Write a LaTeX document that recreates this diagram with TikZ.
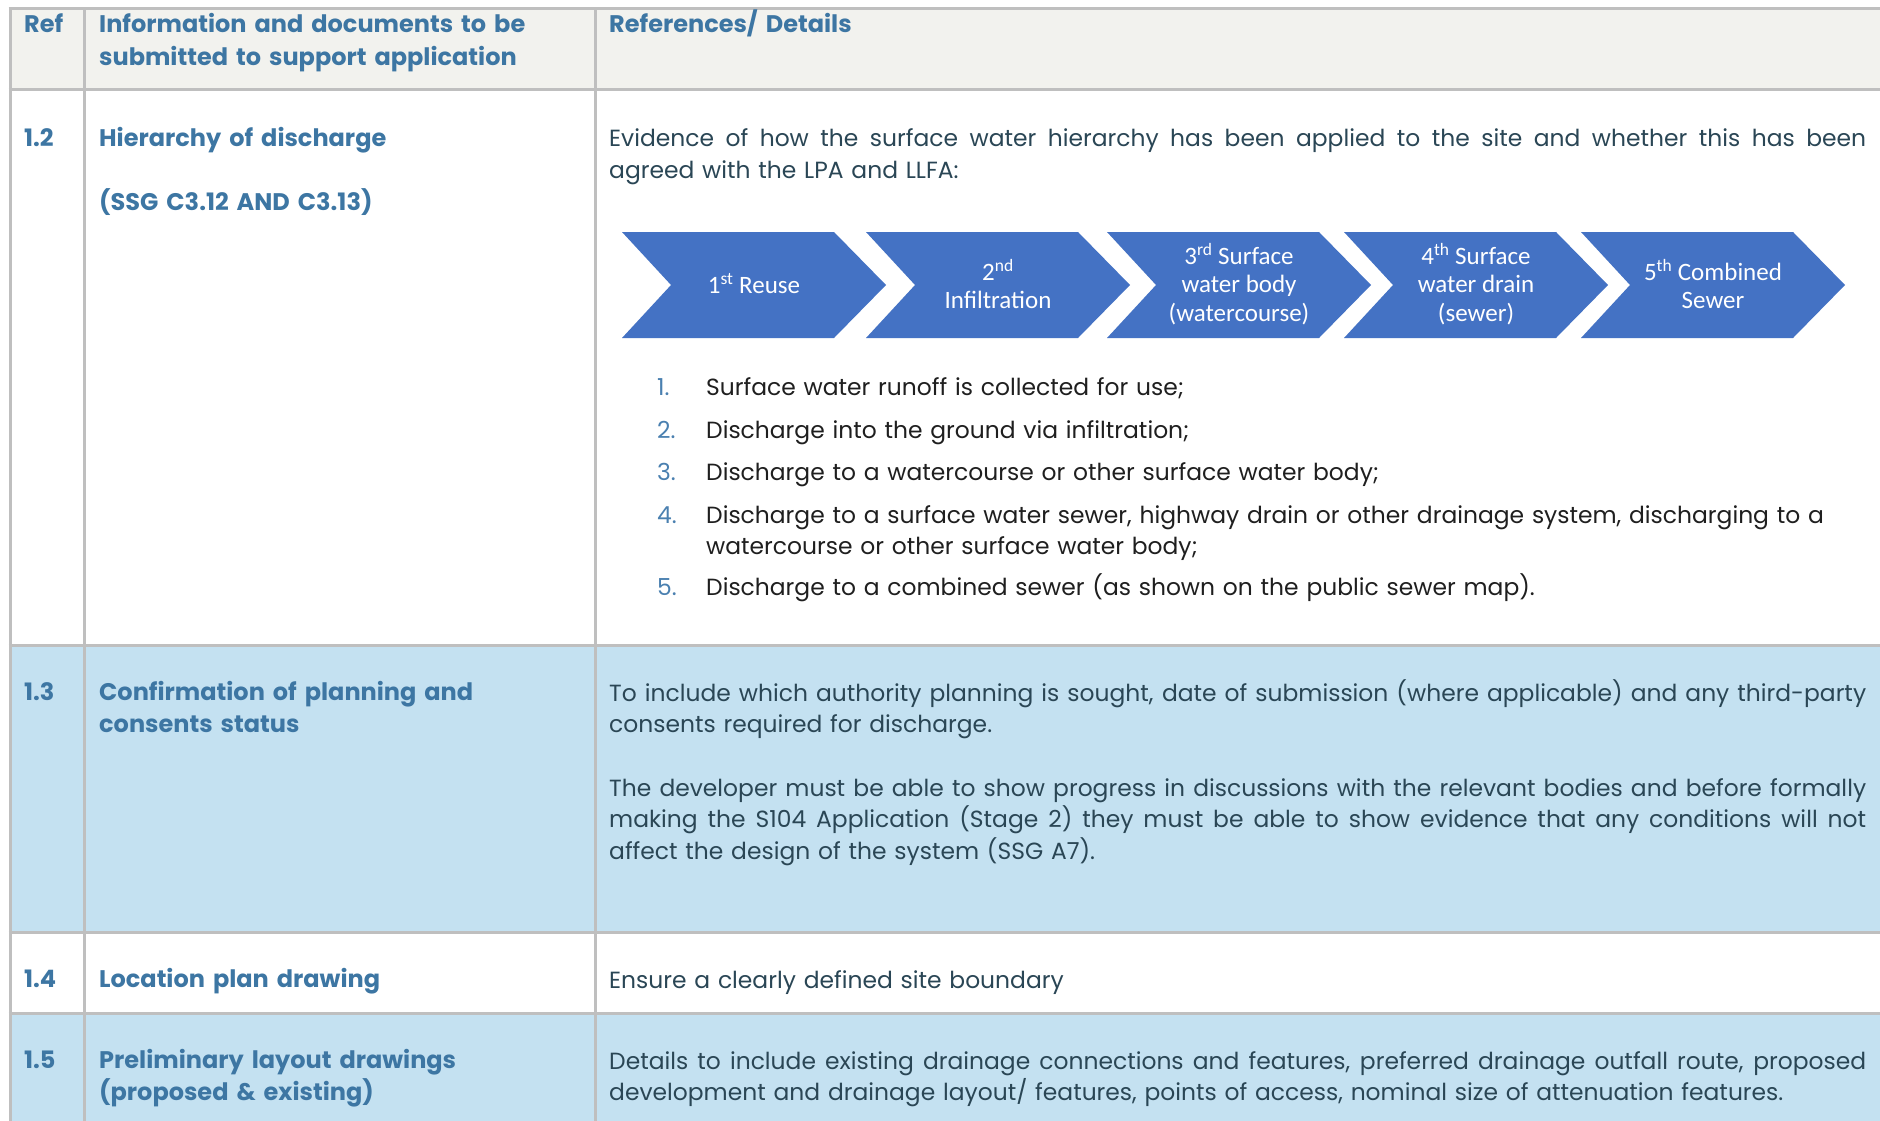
\documentclass[tikz,border=0pt]{standalone}
\usepackage{fontspec}
\setmainfont{Poppins}
\newfontfamily\chevfont{Carlito}
\definecolor{gridgray}{HTML}{BFBFBF}
\definecolor{headbg}{HTML}{F2F2EE}
\definecolor{rowblue}{HTML}{C4E1F1}
\definecolor{headblue}{HTML}{3D76A3}
\definecolor{bodytext}{HTML}{2A4655}
\definecolor{listnum}{HTML}{4A80B0}
\definecolor{chevblue}{HTML}{4472C4}
\newcommand{\fullline}[1]{\makebox[1257pt][s]{\spaceskip=\fontdimen2\font plus .4em minus .12em\relax #1}}
\tikzset{
	grid/.style={draw=gridgray,line width=3pt},
	cell/.style={anchor=base west,inner sep=0pt,font=\fontsize{23.4}{31.5}\selectfont},
	hd/.style={cell,text=headblue,text width=480pt,align=left,font=\bfseries\fontsize{24}{32.5}\selectfont},
	bd/.style={cell,text=bodytext,text width=1257pt,align=left},
	li/.style={cell,text=black!88,text width=1160pt,align=left},
	num/.style={cell,text=listnum},
	chev/.style={fill=chevblue},
	chevtxt/.style={text=white,align=center,inner sep=0pt,font=\chevfont\fontsize{25}{28.5}\selectfont}
}
\begin{document}
\begin{tikzpicture}
	\begin{scope}[x=1pt,y=-1pt]
		\useasboundingbox (0,0) rectangle (1880,1121);
		\fill[white] (0,0) rectangle (1880,1121);
		\fill[headbg] (10,9) rectangle (1880,89.5);
		\fill[rowblue] (10,645) rectangle (1880,932);
		\fill[rowblue] (10,1013) rectangle (1880,1121);
		\foreach \y in {9,89.5,645,932,1013}
			\draw[grid] (8.5,\y) -- (1880,\y);
		\foreach \x in {10,84.5,595}
			\draw[grid] (\x,7.5) -- (\x,1121);

		\node[hd] (refhd) at (24,33) {Ref};
		\node[hd] (infohd) at (99,33) {Information and documents to be\\submitted to support application};
		\node[hd] (dethd) at (609,33) {References/ Details};

		\node[hd] (ref12) at (24,147) {1.2};
		\node[hd] (info12) at (99,147) {Hierarchy of discharge};
		\node[hd] (ssg12) at (99,210) {(SSG C3.12 AND C3.13)};
		\node[bd] (det12) at (609,147) {\fullline{Evidence of how the surface water hierarchy has been applied to the site and whether this has been}\\agreed with the LPA and LLFA:};

		\foreach \i/\l/\t in {1/622/{1\textsuperscript{st} Reuse},2/866/{2\textsuperscript{nd}\\Infiltration},3/1107/{3\textsuperscript{rd} Surface\\water body\\(watercourse)},4/1344/{4\textsuperscript{th} Surface\\water drain\\(sewer)},5/1581/{5\textsuperscript{th} Combined\\Sewer}}{
			\fill[chev] (\l,232) -- ++(212,0) -- ++(52,53) -- ++(-52,53) -- ++(-212,0) -- ++(49,-53) -- cycle;
			\node[chevtxt] (chev\i) at (\l+132,284) {\t};
		}

		\foreach \i/\y/\t in {1/395/{Surface water runoff is collected for use;},2/438/{Discharge into the ground via infiltration;},3/480/{Discharge to a watercourse or other surface water body;},4/523/{Discharge to a surface water sewer, highway drain or other drainage system, discharging to a\\watercourse or other surface water body;},5/595/{Discharge to a combined sewer (as shown on the public sewer map).}}{
			\node[num] (num\i) at (657,\y) {\i.};
			\node[li] (item\i) at (706,\y) {\t};
		}

		\node[hd] (ref13) at (24,700) {1.3};
		\node[hd] (info13) at (99,700) {Confirmation of planning and\\consents status};
		\node[bd] (det13a) at (609,701) {\fullline{To include which authority planning is sought, date of submission (where applicable) and any third-party}\\consents required for discharge.};
		\node[bd] (det13b) at (609,796) {\fullline{The developer must be able to show progress in discussions with the relevant bodies and before formally}\\\fullline{making the S104 Application (Stage 2) they must be able to show evidence that any conditions will not}\\affect the design of the system (SSG A7).};

		\node[hd] (ref14) at (24,987) {1.4};
		\node[hd] (info14) at (99,987) {Location plan drawing};
		\node[bd] (det14) at (609,988) {Ensure a clearly defined site boundary};

		\node[hd] (ref15) at (24,1068) {1.5};
		\node[hd] (info15) at (99,1068) {Preliminary layout drawings\\(proposed \& existing)};
		\node[bd] (det15) at (609,1069) {\fullline{Details to include existing drainage connections and features, preferred drainage outfall route, proposed}\\development and drainage layout/ features, points of access, nominal size of attenuation features.};
	\end{scope}
\end{tikzpicture}
\end{document}
